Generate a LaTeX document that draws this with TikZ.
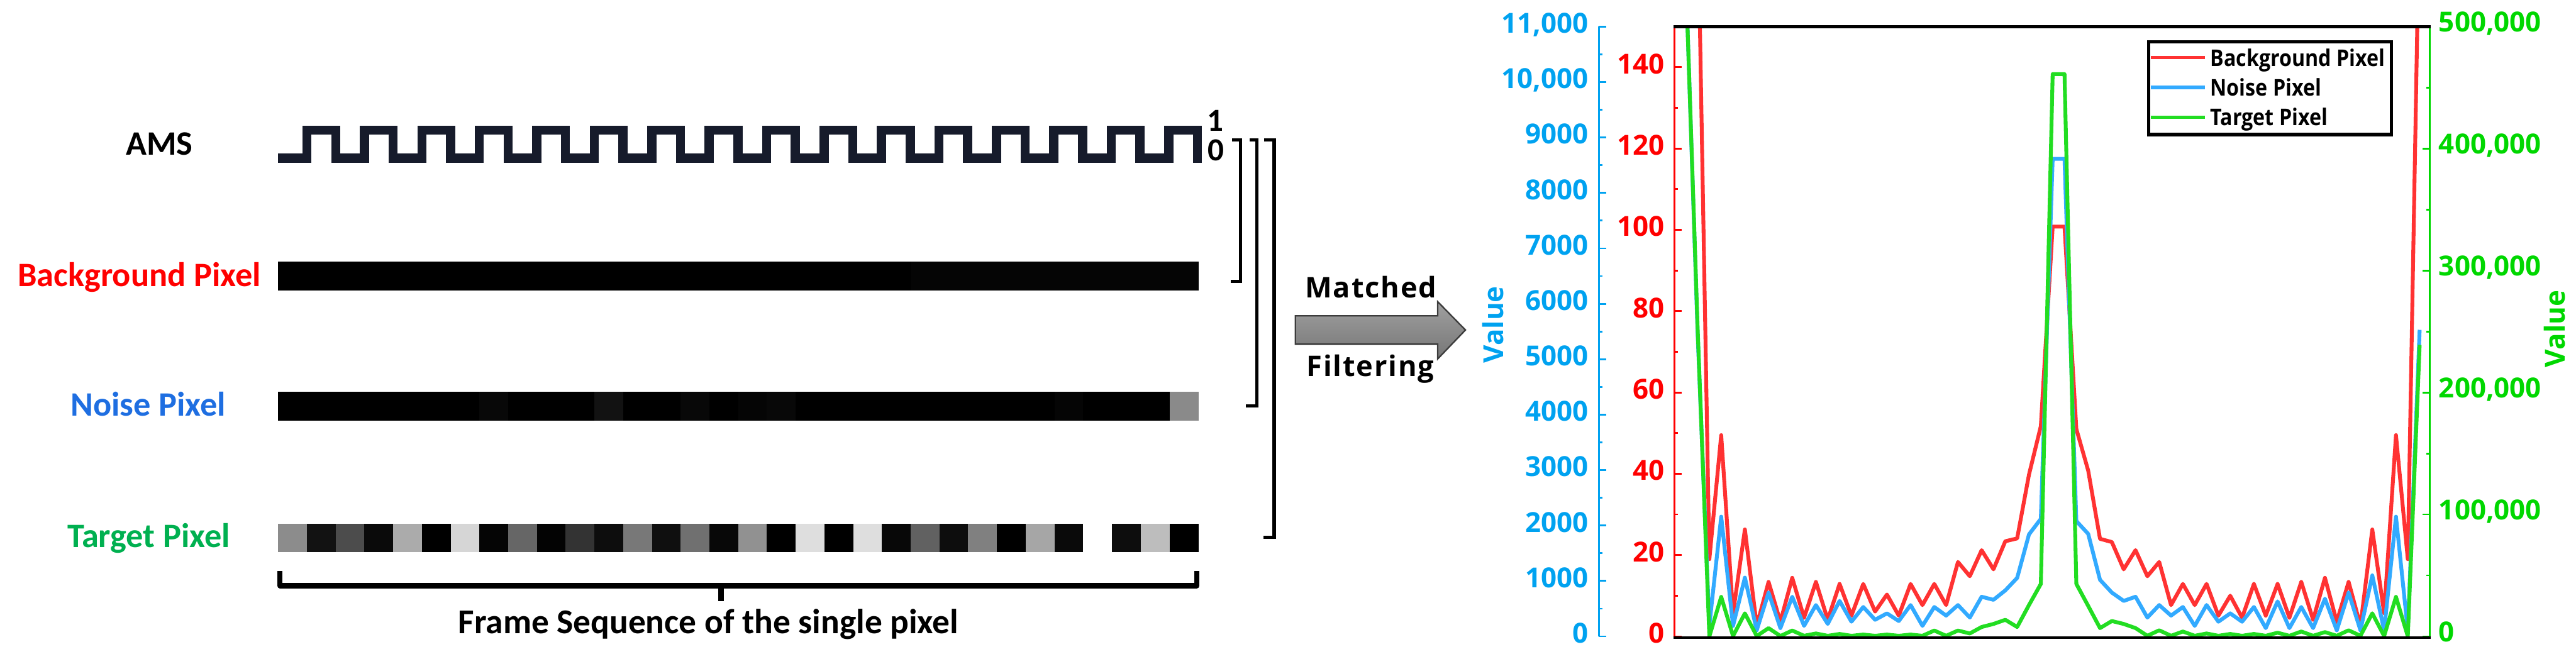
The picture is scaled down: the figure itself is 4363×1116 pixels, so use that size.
\documentclass[tikz,border=0pt]{standalone}
\usepackage{fontspec}
\setmainfont{Open Sans}
\newfontfamily\calfont{Carlito}
\definecolor{wavec}{RGB}{22,27,43}
\definecolor{labred}{RGB}{255,0,0}
\definecolor{labblue}{RGB}{30,110,225}
\definecolor{labgreen}{RGB}{0,176,80}
\definecolor{axred}{RGB}{255,0,0}
\definecolor{axblue}{RGB}{0,162,240}
\definecolor{axgreen}{RGB}{0,215,0}
\definecolor{lnred}{RGB}{255,50,50}
\definecolor{lnblue}{RGB}{50,170,255}
\definecolor{lngreen}{RGB}{34,221,34}
\definecolor{arrtop}{RGB}{160,160,160}
\definecolor{arrbot}{RGB}{118,118,118}
\definecolor{arredge}{RGB}{60,60,60}
\begin{document}
\begin{tikzpicture}[x=0.1mm,y=-0.1mm,
  lbl/.style={font=\calfont\bfseries\fontsize{16.5pt}{19pt}\selectfont, anchor=base, inner sep=0pt},
  bit/.style={font=\calfont\bfseries\fontsize{15.5pt}{17pt}\selectfont, inner sep=0pt},
  tkl/.style={font=\bfseries\fontsize{13.3pt}{15pt}\selectfont, inner sep=0pt},
  lgd/.style={font=\bfseries\fontsize{11.1pt}{13pt}\selectfont\addfontfeature{FakeStretch=0.88}, inner sep=0pt, anchor=base west},
  mf/.style={font=\bfseries\fontsize{13.7pt}{16pt}\selectfont\addfontfeature{LetterSpace=4}, inner sep=0pt, anchor=base},
  wave/.style={line width=1.55mm, draw=wavec, line join=miter, line cap=rect},
  brk/.style={line width=0.55mm, line join=miter},
  brace/.style={line width=0.9mm, line join=round},
  series/.style={line width=0.65mm, line join=round},
  bigarrow/.style={draw=arredge, line width=0.25mm, top color=arrtop, bottom color=arrbot}]
\useasboundingbox (0,0) rectangle (4363,1116);

% ---------------- left part ----------------
\node[lbl] (ams) at (270,263) {AMS};
\node[lbl, text=labred] (bg) at (236,485) {Background Pixel};
\node[lbl, text=labblue] (noise) at (251,705) {Noise Pixel};
\node[lbl, text=labgreen] (target) at (252,927) {Target Pixel};

% AMS square wave
\draw[wave] (479,268) \foreach \i in {0,...,15}{ -- ({520+97.3*\i},268) -- ({520+97.3*\i},220.5) -- ({568.6+97.3*\i},220.5) -- ({568.6+97.3*\i},268) };
\node[bit] (one) at (2058,204) {1};
\node[bit] (zero) at (2060,254) {0};

% pixel bars (32 frames)
\foreach \p [count=\i from 0] in {100,100,100,100,100,100,100,100,100,100,100,100,100,100,100,100,100,100,100,100,100,100,98,98,98,98,98,98,98,98,98,98}
  \fill[black!\p] ({471+48.7*\i},443) rectangle ({471.8+48.7*(\i+1)},492);
\foreach \p [count=\i from 0] in {100,100,100,100,100,100,100,97,100,100,100,93,100,100,97,100,98,97,100,100,100,100,100,100,100,100,100,98,100,100,100,46}
  \fill[black!\p] ({471+48.7*\i},664) rectangle ({471.8+48.7*(\i+1)},713);
\foreach \p [count=\i from 0] in {45,93,70,96,33,100,16,98,60,99,80,95,53,94,56,97,43,100,13,100,13,97,62,95,50,100,35,96,0,95,26,100}
  \fill[black!\p] ({471+48.7*\i},887) rectangle ({471.8+48.7*(\i+1)},935);
\coordinate (bgend) at (2030,467);
\coordinate (noiseend) at (2030,688);
\coordinate (targetend) at (2030,911);

% brace under the frames
\coordinate (brL) at (474,967);
\coordinate (brR) at (2027,967);
\coordinate (brM) at (1221,992);
\draw[brace] (brL) -- (474,992) -- (2027,992) -- (brR);
\draw[brace] (brM) -- (1221,1018);
\node[lbl, font=\calfont\bfseries\fontsize{16.8pt}{19pt}\selectfont] (frame) at (1200,1073) {Frame Sequence of the single pixel};

% brackets grouping AMS with each pixel
\draw[brk] (2087,237) -- (2101,237) -- (2101,477) -- (2085,477);
\draw[brk] (2117,237) -- (2129,237) -- (2129,688) -- (2110,688);
\draw[brk] (2141,237) -- (2158,237) -- (2158,910) -- (2140,910);

% big arrow
\draw[bigarrow] (2194,535) -- (2435,535) -- (2435,511) -- (2482,559) -- (2435,608) -- (2435,583) -- (2194,583) -- cycle;
\node[mf] (matched) at (2322,504) {Matched};
\node[mf] (filtering) at (2321,638) {Filtering};

% ---------------- chart ----------------
% blue axis
\draw[axblue, line width=0.3mm] (2708,45) -- (2708,1078);
\foreach \v/\t in {0/0,1/1000,2/2000,3/3000,4/4000,5/5000,6/6000,7/7000,8/8000,9/9000,10/{10,000},11/{11,000}}{
  \draw[axblue, line width=0.3mm] (2708,{1078-93.9*\v}) -- (2720,{1078-93.9*\v});
  \node[tkl, text=axblue, anchor=base east] at (2691,{1078-93.9*\v+11}) {\t};
}
\foreach \v in {0,...,10}
  \draw[axblue, line width=0.3mm] (2708,{1078-93.9*(\v+0.5)}) -- (2714,{1078-93.9*(\v+0.5)});
\node[tkl, text=axblue, rotate=90] (bvalue) at (2529,550) {Value};

% red axis
\draw[axred, line width=0.3mm] (2836,45) -- (2836,1078);
\foreach \v in {0,20,...,140}{
  \draw[axred, line width=0.3mm] (2836,{1078-6.887*\v}) -- (2848,{1078-6.887*\v});
  \node[tkl, text=axred, anchor=base east] at (2820,{1078-6.887*\v+11}) {\v};
}
\foreach \v in {10,30,...,130}
  \draw[axred, line width=0.3mm] (2836,{1078-6.887*\v}) -- (2842,{1078-6.887*\v});

% green axis
\draw[axgreen, line width=0.3mm] (4115,45) -- (4115,1078);
\foreach \v/\t in {0/0,1/{100,000},2/{200,000},3/{300,000},4/{400,000},5/{500,000}}{
  \draw[axgreen, line width=0.3mm] (4115,{1078-206.6*\v}) -- (4103,{1078-206.6*\v});
  \node[tkl, text=axgreen, anchor=base west] at (4130,{1078-206.6*\v+9}) {\t};
}
\foreach \v in {0,...,4}
  \draw[axgreen, line width=0.3mm] (4115,{1078-206.6*(\v+0.5)}) -- (4109,{1078-206.6*(\v+0.5)});
\node[tkl, text=axgreen, rotate=90] (gvalue) at (4327,557) {Value};

% data
\begin{scope}
\clip (2836,45) rectangle (4116,1080);
\begin{scope}[shift={(2835,1078)}, x=2.005mm, y=0.6887mm]
\draw[series, lnred] plot coordinates {(1,400) (2,183) (3,19) (4,49.5) (5,5.7) (6,26.3) (7,2.6) (8,13.4) (9,3.6) (10,14.4) (11,4.6) (12,13.4) (13,4.1) (14,12.9) (15,5.1) (16,12.9) (17,6.1) (18,10.3) (19,5.1) (20,12.9) (21,7.7) (22,12.9) (23,7.7) (24,18.3) (25,14.8) (26,21.2) (27,16.5) (28,23.4) (29,24.1) (30,39.8) (31,51.7) (32,100.8) (33,100.8) (34,51) (35,40.8) (36,24) (37,23.2) (38,16.5) (39,21.2) (40,14.8) (41,18.3) (42,7.7) (43,12.9) (44,7.7) (45,12.9) (46,5.1) (47,10) (48,4.6) (49,12.9) (50,5.1) (51,12.9) (52,4.6) (53,13.4) (54,4.1) (55,14.4) (56,3.6) (57,13.4) (58,2.6) (59,26.3) (60,5.7) (61,49.5) (62,19) (63,183)};
\end{scope}
\begin{scope}[shift={(2835,1078)}, x=2.005mm, y=9.39mm]
\draw[series, lnblue] plot coordinates {(1,12) (2,5.5) (3,0.2) (4,2.16) (5,0.19) (6,1.06) (7,0.11) (8,0.79) (9,0.15) (10,0.715) (11,0.19) (12,0.565) (13,0.225) (14,0.64) (15,0.265) (16,0.53) (17,0.3) (18,0.415) (19,0.277) (20,0.565) (21,0.19) (22,0.53) (23,0.375) (24,0.565) (25,0.34) (26,0.715) (27,0.66) (28,0.83) (29,1.055) (30,1.84) (31,2.12) (32,8.615) (33,8.615) (34,2.08) (35,1.85) (36,1.02) (37,0.79) (38,0.64) (39,0.715) (40,0.34) (41,0.565) (42,0.375) (43,0.53) (44,0.19) (45,0.565) (46,0.265) (47,0.415) (48,0.265) (49,0.53) (50,0.15) (51,0.63) (52,0.15) (53,0.53) (54,0.15) (55,0.68) (56,0.11) (57,0.79) (58,0.11) (59,1.1) (60,0.11) (61,2.16) (62,0.11) (63,5.53)};
\end{scope}
\begin{scope}[shift={(2835,1078)}, x=2.005mm, y=0.2066mm]
\draw[series, lngreen] plot coordinates {(1,544) (2,255) (3,0) (4,32.4) (5,0.3) (6,18.9) (7,0.3) (8,6.8) (9,0.3) (10,4.8) (11,0.5) (12,2.4) (13,0.5) (14,2) (15,0.5) (16,1.5) (17,0.5) (18,1.5) (19,0.5) (20,1.5) (21,0.5) (22,4.8) (23,0.5) (24,4.8) (25,2.4) (26,7.7) (27,10.2) (28,13.6) (29,7.7) (30,25.7) (31,43) (32,461) (33,461) (34,43) (35,25) (36,6.8) (37,12.6) (38,10.2) (39,6.8) (40,0.5) (41,5) (42,0.5) (43,4) (44,0.5) (45,2.4) (46,0.5) (47,2) (48,0.5) (49,2) (50,0.5) (51,3) (52,0.5) (53,4) (54,0.5) (55,3.5) (56,0.5) (57,5) (58,0.5) (59,18.9) (60,0.3) (61,32.4) (62,0) (63,239)};
\end{scope}
\end{scope}

% frame lines
\draw[black, line width=0.5mm] (2834,45.5) -- (4117,45.5);
\draw[black, line width=0.5mm] (2834,1080) -- (4117,1080);

% legend
\draw[black, line width=0.55mm, fill=white] (3639,71) rectangle (4050,228);
\draw[lnred, line width=0.6mm] (3643,97.5) -- (3735,97.5);
\node[lgd] (lg1) at (3743,112) {Background Pixel};
\draw[lnblue, line width=0.6mm] (3643,148) -- (3735,148);
\node[lgd] (lg2) at (3743,162.5) {Noise Pixel};
\draw[lngreen, line width=0.6mm] (3643,198.6) -- (3735,198.6);
\node[lgd] (lg3) at (3743,213) {Target Pixel};
\end{tikzpicture}
\end{document}
